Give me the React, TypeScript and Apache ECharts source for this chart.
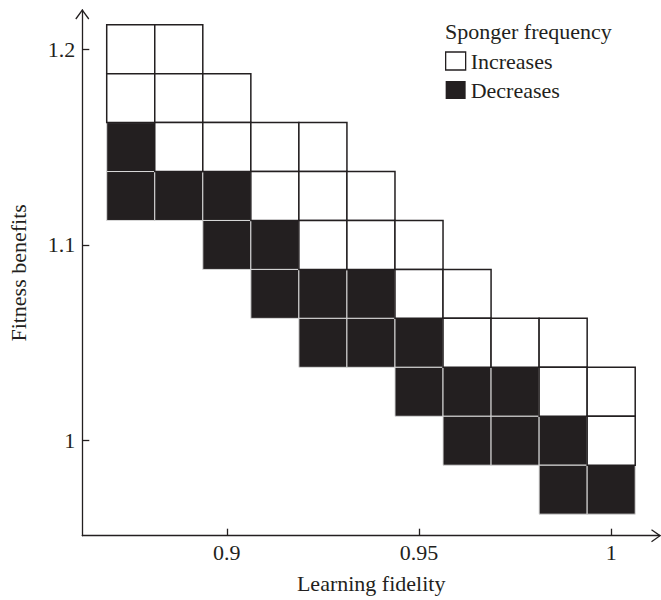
import React, { useEffect, useRef } from "react";
import * as echarts from "echarts";

// Learning fidelity (x) of each column of cells
const fidelity = [0.875, 0.8875, 0.9, 0.9125, 0.925, 0.9375, 0.95, 0.9625, 0.975, 0.9875, 1.0];
// Fitness benefits (y) of each row of cells, top to bottom
const benefits = [1.2, 1.175, 1.15, 1.125, 1.1, 1.075, 1.05, 1.025, 1.0, 0.975];
// Index (into benefits) of the top cell of each column
const columnTopRow = [0, 0, 1, 2, 2, 3, 4, 5, 6, 6, 7];
// Outcome of each cell of a column, top to bottom: I = increases, D = decreases
const columnOutcomes = ["IIDD", "IIID", "IIDD", "IIDD", "IIIDD", "IIDD", "IIDD", "IIDD", "IDD", "IIDD", "IID"];
const xTicks = [0.9, 0.95, 1];
const yTicks = [1, 1.1, 1.2];
const cellHalfWidth = 0.00625;
const cellHalfHeight = 0.0125;

const INK = "#231f20";
const FONT = '"Liberation Serif", "Times New Roman", serif';

function buildCells(kind: string): number[][] {
  const out: number[][] = [];
  fidelity.forEach((fx, ci) => {
    const pattern = columnOutcomes[ci];
    for (let k = 0; k < pattern.length; k++) {
      if (pattern[k] === kind) out.push([fx, benefits[columnTopRow[ci] + k]]);
    }
  });
  return out;
}

const GRID_LEFT = 82.3;
const GRID_TOP = 10;
const GRID_RIGHT = 1;
const GRID_BOTTOM = 64.3;
const W = 661;
const H = 600;

export default function App() {
  const ref = useRef<HTMLDivElement>(null);
  useEffect(() => {
    if (!ref.current) return;
    const chart = echarts.init(ref.current, null, { renderer: "svg" });
    const makeRender = (fill: string, stroke: string, lw: number) => (params: any, api: any) => {
      const x = api.value(0);
      const y = api.value(1);
      const p0 = api.coord([x - cellHalfWidth, y + cellHalfHeight]);
      const p1 = api.coord([x + cellHalfWidth, y - cellHalfHeight]);
      return {
        type: "rect",
        shape: { x: p0[0], y: p0[1], width: p1[0] - p0[0], height: p1[1] - p0[1] },
        style: { fill, stroke, lineWidth: lw },
      };
    };
    const axisY = H - GRID_BOTTOM;
    const axisRight = W - GRID_RIGHT;
    const lineStyle = { stroke: INK, lineWidth: 1.3, fill: "none" };
    chart.setOption({
      animation: false,
      textStyle: { fontFamily: FONT, color: INK },
      title: {
        text: "Sponger frequency",
        left: 445,
        top: 20,
        padding: 0,
        textStyle: { fontSize: 22, fontWeight: "normal", fontFamily: FONT, color: INK },
      },
      legend: {
        orient: "vertical",
        left: 445,
        top: 50,
        padding: 0,
        itemWidth: 20,
        itemHeight: 18,
        itemGap: 7,
        textStyle: { fontSize: 22, fontFamily: FONT, color: INK },
        data: [
          { name: "Increases", icon: "rect", itemStyle: { color: "#ffffff", borderColor: INK, borderWidth: 1.3 } },
          { name: "Decreases", icon: "rect", itemStyle: { color: INK, borderWidth: 0 } },
        ],
      },
      grid: {
        left: GRID_LEFT,
        right: GRID_RIGHT,
        top: GRID_TOP,
        bottom: GRID_BOTTOM,
        containLabel: false,
        outerBoundsMode: "none",
      },
      xAxis: {
        type: "value",
        min: 0.8624,
        max: 1.0127,
        name: "Learning fidelity",
        nameLocation: "middle",
        nameGap: 37,
        nameTextStyle: { fontSize: 22, fontFamily: FONT, color: INK },
        axisLine: { show: true, lineStyle: { color: INK, width: 1.3 } },
        axisTick: { show: true, inside: true, length: 7, customValues: xTicks, lineStyle: { color: INK, width: 1.3 } },
        axisLabel: { customValues: xTicks, margin: 6, fontSize: 22, fontFamily: FONT, color: INK, formatter: (v: number) => String(v) },
        splitLine: { show: false },
      },
      yAxis: {
        type: "value",
        min: 0.9515,
        max: 1.22,
        name: "Fitness benefits",
        nameLocation: "middle",
        nameGap: 53,
        nameTextStyle: { fontSize: 22, fontFamily: FONT, color: INK },
        axisLine: { show: true, lineStyle: { color: INK, width: 1.3 } },
        axisTick: { show: true, inside: true, length: 7, customValues: yTicks, lineStyle: { color: INK, width: 1.3 } },
        axisLabel: { customValues: yTicks, margin: 7, fontSize: 22, fontFamily: FONT, color: INK, formatter: (v: number) => String(v) },
        splitLine: { show: false },
      },
      graphic: [
        { type: "polyline", shape: { points: [[GRID_LEFT - 6.5, GRID_TOP + 9], [GRID_LEFT, GRID_TOP], [GRID_LEFT + 6.5, GRID_TOP + 9]] }, style: lineStyle },
        { type: "polyline", shape: { points: [[axisRight - 8.5, axisY - 6], [axisRight, axisY], [axisRight - 8.5, axisY + 6]] }, style: lineStyle },
      ],
      series: [
        {
          name: "Decreases",
          type: "custom",
          renderItem: makeRender(INK, "#d9d9d9", 1),
          data: buildCells("D"),
          itemStyle: { color: INK },
          z: 2,
        },
        {
          name: "Increases",
          type: "custom",
          renderItem: makeRender("#ffffff", INK, 1.5),
          data: buildCells("I"),
          itemStyle: { color: "#ffffff", borderColor: INK },
          z: 3,
        },
      ],
    });
    return () => chart.dispose();
  }, []);
  return <div ref={ref} style={{ position: "absolute", left: 0, top: 0, width: W, height: H }} />;
}
